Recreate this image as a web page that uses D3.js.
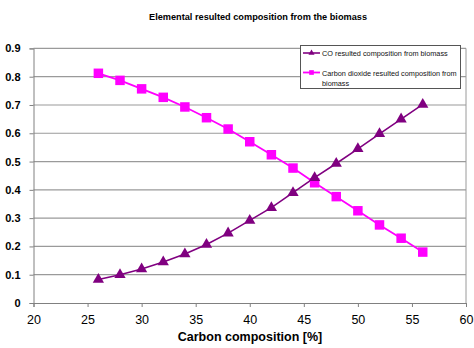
<!DOCTYPE html>
<html><head><meta charset="utf-8">
<script src="https://cdn.jsdelivr.net/npm/d3@7"></script>
<style>body{margin:0;background:#fff}svg{display:block}</style>
</head><body>
<svg id="c" width="474" height="348"></svg>
<script>
const carbon = [26,28,30,32,34,36,38,40,42,44,46,48,50,52,54,56];
const coValues = [0.083,0.100,0.120,0.145,0.173,0.207,0.247,0.292,0.337,0.390,0.443,0.493,0.545,0.598,0.650,0.702];
const co2Values = [0.812,0.787,0.757,0.727,0.693,0.655,0.615,0.570,0.524,0.477,0.425,0.376,0.326,0.276,0.229,0.180];
const xTicks = [20,25,30,35,40,45,50,55,60];
const yTicks = [0,0.1,0.2,0.3,0.4,0.5,0.6,0.7,0.8,0.9];
const seriesNames = ["CO resulted composition from biomass","Carbon dioxide resulted composition from|biomass"];

const svg = d3.select("#c");
const font = "Liberation Sans, Arial, sans-serif";
const x = d3.scaleLinear().domain([20,60]).range([33.5,466]);
const y = d3.scaleLinear().domain([0,0.9]).range([303,48.4]);

// title
svg.append("text").attr("x",258).attr("y",20).attr("text-anchor","middle")
  .attr("font-family",font).attr("font-size",9.2).attr("font-weight","bold")
  .text("Elemental resulted composition from the biomass");

// gridlines
svg.append("g").selectAll("line").data(yTicks.filter(d=>d>0)).join("line")
  .attr("x1",x(20)).attr("x2",x(60)).attr("y1",d=>y(d)).attr("y2",d=>y(d))
  .attr("stroke","#9a9a9a").attr("stroke-width",1.2);
// right border
svg.append("line").attr("x1",x(60)).attr("x2",x(60)).attr("y1",y(0.9)).attr("y2",y(0))
  .attr("stroke","#9a9a9a").attr("stroke-width",1);

// axes
const yAxis = svg.append("g").attr("transform",`translate(${x(20)},0)`)
  .call(d3.axisLeft(y).tickValues(yTicks).tickSize(4).tickPadding(9).tickFormat(d=>d===0?"0":d3.format(".1f")(d)));
yAxis.selectAll("text").attr("font-family",font).attr("font-size",11).attr("font-weight","bold").attr("fill","#000");
yAxis.selectAll("line,path").attr("stroke","#808080");

const xAxis = svg.append("g").attr("transform",`translate(0,${y(0)})`)
  .call(d3.axisBottom(x).tickValues(xTicks).tickSize(4).tickPadding(8).tickFormat(d3.format("d")));
xAxis.selectAll("text").attr("font-family",font).attr("font-size",12.5).attr("fill","#000");
xAxis.selectAll("line,path").attr("stroke","#808080");

svg.append("text").attr("x",250).attr("y",341).attr("text-anchor","middle")
  .attr("font-family",font).attr("font-size",12.5).attr("font-weight","bold")
  .text("Carbon composition [%]");

const line = d3.line().x(d=>x(d[0])).y(d=>y(d[1]));
const coData = carbon.map((c,i)=>[c,coValues[i]]);
const co2Data = carbon.map((c,i)=>[c,co2Values[i]]);
const coColor = "#800080", co2Color = "#ff00ff";

svg.append("path").datum(co2Data).attr("d",line).attr("fill","none").attr("stroke",co2Color).attr("stroke-width",1.8);
svg.append("path").datum(coData).attr("d",line).attr("fill","none").attr("stroke",coColor).attr("stroke-width",1.6);

const sq = d3.symbol().type(d3.symbolSquare).size(90);
const tri = d3.symbol().type(d3.symbolTriangle).size(55);
svg.append("g").selectAll("path").data(co2Data).join("path")
  .attr("d",sq).attr("transform",d=>`translate(${x(d[0])},${y(d[1])})`).attr("fill",co2Color);
svg.append("g").selectAll("path").data(coData).join("path")
  .attr("d",tri).attr("transform",d=>`translate(${x(d[0])},${y(d[1])})`).attr("fill",coColor);

// legend
const lg = svg.append("g");
lg.append("rect").attr("x",300.5).attr("y",45.5).attr("width",160).attr("height",43)
  .attr("fill","#fff").attr("stroke","#555").attr("stroke-width",1);
const lx1 = 303, lx2 = 320;
lg.append("line").attr("x1",lx1).attr("x2",lx2).attr("y1",53).attr("y2",53).attr("stroke",coColor).attr("stroke-width",1.6);
lg.append("path").attr("d",d3.symbol().type(d3.symbolTriangle).size(16)).attr("transform",`translate(${(lx1+lx2)/2},53)`).attr("fill",coColor);
lg.append("line").attr("x1",lx1).attr("x2",lx2).attr("y1",72.5).attr("y2",72.5).attr("stroke",co2Color).attr("stroke-width",1.8);
lg.append("path").attr("d",d3.symbol().type(d3.symbolSquare).size(22)).attr("transform",`translate(${(lx1+lx2)/2},72.5)`).attr("fill",co2Color);
lg.append("text").attr("x",322).attr("y",56).attr("font-family",font).attr("font-size",7.3).attr("fill","#111")
  .text(seriesNames[0]);
const t2 = lg.append("text").attr("font-family",font).attr("font-size",7.3).attr("fill","#111");
seriesNames[1].split("|").forEach((s,i)=>t2.append("tspan").attr("x",322).attr("y",75.5+i*10).text(s));
</script>
</body></html>
